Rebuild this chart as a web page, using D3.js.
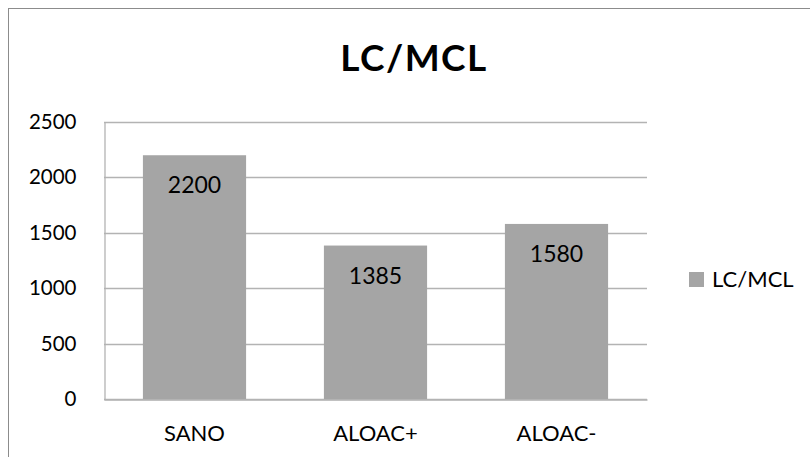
<!DOCTYPE html>
<html>
<head>
<meta charset="utf-8">
<script src="https://cdn.jsdelivr.net/npm/d3@7"></script>
<style>
  html, body { margin: 0; padding: 0; background: #fff; }
  svg { display: block; font-family: Lato, "Open Sans", sans-serif; }
</style>
</head>
<body>
<svg id="chart" width="810" height="457"></svg>
<script>
// Chart data
const categories = ["SANO", "ALOAC+", "ALOAC-"];
const values = [2200, 1385, 1580];
const seriesName = "LC/MCL";
const yTicks = [0, 500, 1000, 1500, 2000, 2500];

const svg = d3.select("#chart");
const W = 810, H = 457;
const plot = { left: 104, right: 647, top: 122, bottom: 399 };
const barColor = "#a5a5a5";
const gridColor = "#b3b3b3";
const font = "Lato, 'Open Sans', sans-serif";

// Outer chart frame (extends past the right and bottom edges)
svg.append("rect")
  .attr("x", 8.5).attr("y", 8.5)
  .attr("width", W + 10).attr("height", H + 10)
  .attr("fill", "#fff")
  .attr("stroke", "#8c8c8c").attr("stroke-width", 1);

const x = d3.scaleBand()
  .domain(categories)
  .range([plot.left, plot.right])
  .paddingInner(0.43)
  .paddingOuter(0.215);

const y = d3.scaleLinear()
  .domain([0, 2500])
  .range([plot.bottom, plot.top]);

// Horizontal gridlines
svg.append("g")
  .selectAll("line")
  .data(yTicks)
  .join("line")
  .attr("x1", plot.left).attr("x2", plot.right)
  .attr("y1", d => Math.round(y(d)) + 0.5)
  .attr("y2", d => Math.round(y(d)) + 0.5)
  .attr("stroke", gridColor).attr("stroke-width", 1.3);

// Y axis
const yAxis = svg.append("g")
  .attr("transform", `translate(${plot.left + 0.5},0)`)
  .call(d3.axisLeft(y).tickValues(yTicks).tickSize(0).tickPadding(28).tickFormat(d3.format("d")));
yAxis.select(".domain").attr("stroke", gridColor).attr("stroke-width", 1.3);
yAxis.selectAll("text")
  .attr("font-size", 20.5).attr("fill", "#000")
  .attr("font-family", font);

// Bars
const rows = categories.map((c, i) => ({ c, v: values[i] }));
svg.append("g")
  .selectAll("rect")
  .data(rows)
  .join("rect")
  .attr("x", d => x(d.c))
  .attr("width", x.bandwidth())
  .attr("y", d => y(d.v))
  .attr("height", d => y(0) - y(d.v))
  .attr("fill", barColor);

// X axis line and labels
const xAxis = svg.append("g")
  .attr("transform", `translate(0,${plot.bottom + 0.5})`)
  .call(d3.axisBottom(x).tickSize(0).tickPadding(26));
xAxis.select(".domain").attr("stroke", gridColor).attr("stroke-width", 1.3);
xAxis.selectAll("text")
  .attr("font-size", 22).attr("fill", "#000")
  .attr("font-family", font);

// Value labels inside the bars
svg.append("g")
  .selectAll("text")
  .data(rows)
  .join("text")
  .attr("x", d => x(d.c) + x.bandwidth() / 2)
  .attr("y", d => y(d.v) + 38)
  .attr("text-anchor", "middle")
  .attr("font-size", 23)
  .attr("fill", "#000")
  .text(d => d.v);

// Title
svg.append("text")
  .attr("x", 414).attr("y", 71)
  .attr("text-anchor", "middle")
  .attr("font-size", 37).attr("font-weight", "bold")
  .attr("letter-spacing", 1.5)
  .attr("fill", "#000")
  .text(seriesName);

// Legend
const legend = svg.append("g").attr("transform", "translate(689,272)");
legend.append("rect").attr("width", 15).attr("height", 15).attr("fill", barColor);
legend.append("text")
  .attr("x", 23).attr("y", 15)
  .attr("font-size", 22).attr("fill", "#000")
  .text(seriesName);
</script>
</body>
</html>
